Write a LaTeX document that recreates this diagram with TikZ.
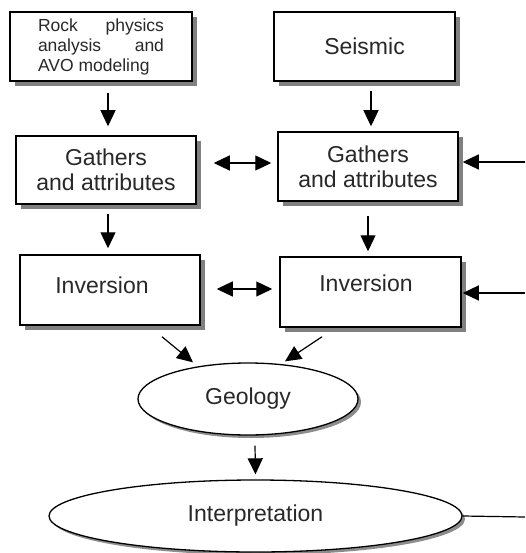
\documentclass[tikz,border=0pt]{standalone}
\usepackage{fontspec}
\setmainfont{Liberation Sans}
\usetikzlibrary{arrows.meta,shapes.geometric,shadows}
\definecolor{txt}{RGB}{40,40,40}
\begin{document}
\begin{tikzpicture}[x=1pt,y=-1pt,
  box/.style={draw, line width=1.5pt, fill=white, rectangle, inner sep=0pt,
    align=center, font=\fontsize{23}{25}\selectfont, text=txt,
    drop shadow={shadow xshift=5pt,shadow yshift=-5pt,fill=black!50,opacity=1}},
  oval/.style={draw, line width=1.3pt, fill=white, ellipse, inner sep=0pt,
    font=\fontsize{23}{25}\selectfont, text=txt,
    drop shadow={shadow xshift=3pt,shadow yshift=-3pt,fill=black!45,opacity=1}},
  arr/.style={-{Triangle[length=16pt,width=15pt]}, line width=1.2pt},
  darr/.style={{Triangle[length=16pt,width=15pt]}-{Triangle[length=16pt,width=15pt]}, line width=1.2pt},
  plain/.style={line width=1.2pt}]
\useasboundingbox[fill=white] (0,0) rectangle (525,553);

\node[box, minimum width=182pt, minimum height=69pt, align=left,
  font=\fontsize{17.5}{20}\selectfont] (rock) at (101,46.5)
  {\makebox[126pt][s]{Rock physics}\\\makebox[126pt][s]{analysis and}\\AVO modeling};
\node[box, minimum width=181pt, minimum height=69pt] (seis) at (364.5,46.5) {Seismic};
\node[box, minimum width=180pt, minimum height=68pt] (gathL) at (106,170) {Gathers\\and attributes};
\node[box, minimum width=180pt, minimum height=69pt] (gathR) at (368,166.5) {Gathers\\and attributes};
\node[box, minimum width=180pt, minimum height=70pt] (invL) at (110,290) {\hspace*{-16pt}Inversion\\[-15pt]\mbox{}};
\node[box, minimum width=181pt, minimum height=70pt] (invR) at (370.5,292) {\hspace*{-9pt}Inversion\\[-7pt]\mbox{}};
\node[oval, minimum width=220pt, minimum height=72pt] (geo) at (248,399) {Geology};
\node[oval, minimum width=413pt, minimum height=72pt] (interp) at (255.5,516) {Interpretation};

\coordinate (inG) at (525,162);
\coordinate (inI) at (525,293);
\coordinate (outI) at (525,517);

\draw[arr] ([xshift=7pt,yshift=-11pt]rock.south) -- ([xshift=2pt,yshift=9pt]gathL.north);
\draw[arr] ([xshift=6.5pt,yshift=-9pt]seis.south) -- ([xshift=3pt,yshift=5pt]gathR.north);
\draw[darr] ([xshift=17pt,yshift=7pt]gathL.east) -- ([xshift=-6pt,yshift=3.5pt]gathR.west);
\draw[arr] (inG) -- ([xshift=4pt,yshift=4.5pt]gathR.east);
\draw[arr] ([xshift=2pt,yshift=-9pt]gathL.south) -- ([xshift=-2pt,yshift=6pt]invL.north);
\draw[arr] ([yshift=-14pt]gathR.south) -- ([xshift=-2.5pt,yshift=5pt]invR.north);
\draw[darr] ([xshift=16pt,yshift=1pt]invL.east) -- ([xshift=-7pt,yshift=3pt]invR.west);
\draw[arr] (inI) -- ([xshift=1pt,yshift=-1pt]invR.east);
\draw[arr] ([xshift=52pt,yshift=-11pt]invL.south) -- ([xshift=-55pt]geo.north);
\draw[arr] ([xshift=-48.5pt,yshift=-9pt]invR.south) -- ([xshift=37pt,yshift=1pt]geo.north);
\draw[arr] ([xshift=7pt,yshift=-10pt]geo.south) -- ([yshift=5pt]interp.north);
\draw[plain] (interp.east) -- (outI);
\end{tikzpicture}
\end{document}
